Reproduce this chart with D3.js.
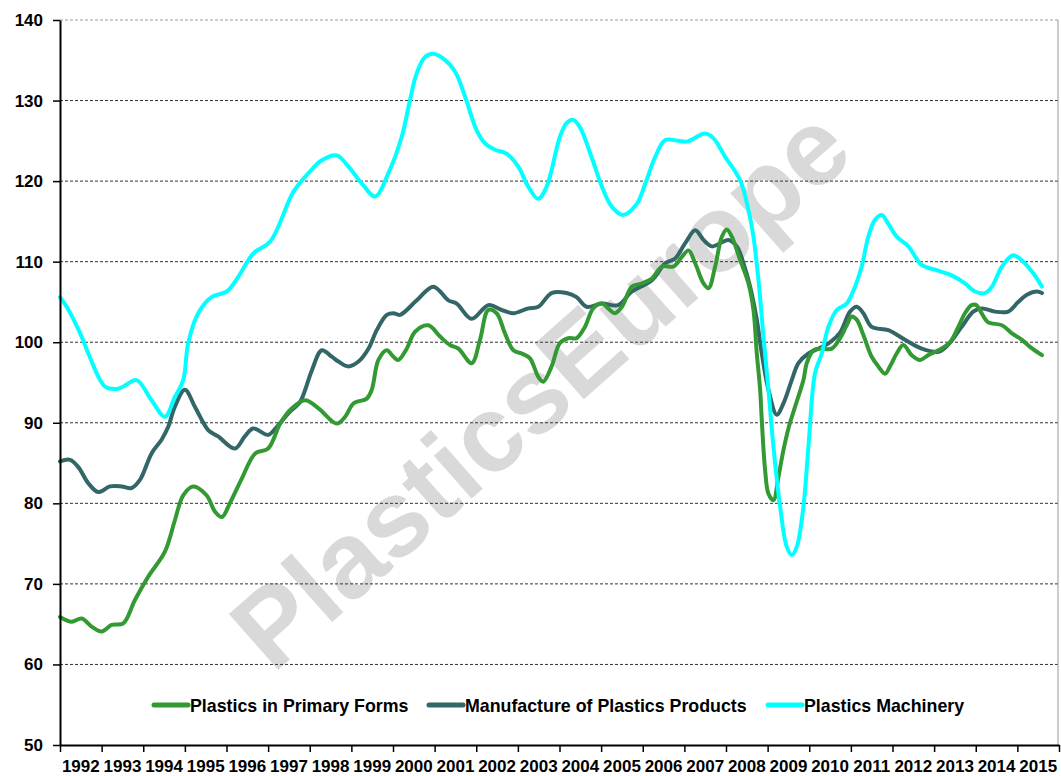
<!DOCTYPE html>
<html><head><meta charset="utf-8">
<script src="https://cdn.jsdelivr.net/npm/d3@7"></script>
<style>
body{margin:0;background:#fff}
svg{display:block}
text{font-family:"Liberation Sans",Arial,sans-serif;font-weight:bold;fill:#000}
</style>
</head><body>
<svg id="chart" width="1061" height="776"></svg>
<script>
// ---- data ----
const yearLabels = d3.range(1992, 2016).map(String);
const yTicks = [50, 60, 70, 80, 90, 100, 110, 120, 130, 140];
const seriesNames = ["Plastics in Primary Forms", "Manufacture of Plastics Products", "Plastics Machinery"];
const seriesColors = ["#339933", "#336666", "#00FFFF"];

const primaryForms = [
 [1992.00,65.9],[1992.28,65.3],[1992.52,65.7],[1992.76,64.7],[1993.00,64.1],[1993.24,64.9],[1993.52,65.1],
 [1993.80,68.0],[1994.12,70.9],[1994.52,74.0],[1994.76,77.9],[1994.96,81.0],[1995.20,82.1],[1995.52,81.0],
 [1995.72,79.0],[1995.89,78.3],[1996.08,80.0],[1996.37,83.1],[1996.69,86.2],[1997.00,86.8],[1997.29,89.9],
 [1997.53,91.6],[1997.89,92.8],[1998.21,91.8],[1998.65,89.9],[1998.85,90.75],[1999.05,92.4],[1999.37,93.0],
 [1999.49,94.1],[1999.65,97.8],[1999.85,99.0],[2000.01,98.2],[2000.13,97.8],[2000.33,99.2],[2000.53,101.3],
 [2000.85,102.1],[2001.13,100.7],[2001.37,99.65],[2001.57,99.2],[2001.89,97.4],[2002.09,100.3],[2002.29,104.0],
 [2002.49,103.6],[2002.69,101.1],[2002.89,99.0],[2003.09,98.6],[2003.29,98.0],[2003.49,95.7],[2003.61,95.1],
 [2003.81,97.0],[2004.01,99.9],[2004.21,100.5],[2004.41,100.5],[2004.61,101.9],[2004.81,104.2],[2005.02,104.8],
 [2005.17,104.2],[2005.33,103.6],[2005.50,104.4],[2005.74,106.9],[2005.98,107.3],[2006.22,107.9],[2006.46,109.4],
 [2006.74,109.4],[2006.94,110.6],[2007.10,111.4],[2007.26,109.8],[2007.46,107.3],[2007.58,106.7],[2007.74,109.4],
 [2007.90,113.1],[2008.02,114.0],[2008.14,113.1],[2008.34,110.2],[2008.54,107.3],[2008.66,104.0],[2008.74,98.6],
 [2008.82,94.1],[2008.86,90.3],[2008.94,84.1],[2009.02,81.2],[2009.14,80.4],[2009.26,83.3],[2009.38,86.6],
 [2009.50,89.3],[2009.66,92.0],[2009.86,95.3],[2009.94,97.4],[2010.10,99.0],[2010.30,99.2],[2010.54,99.2],
 [2010.74,100.5],[2010.90,102.1],[2011.02,103.2],[2011.14,102.8],[2011.30,100.9],[2011.50,98.2],[2011.66,97.0],
 [2011.82,96.1],[2011.94,97.0],[2012.10,98.6],[2012.26,99.65],[2012.46,98.4],[2012.66,97.8],[2012.86,98.4],
 [2013.10,99.0],[2013.38,100.0],[2013.58,101.9],[2013.74,103.6],[2013.90,104.6],[2014.02,104.6],[2014.14,103.6],
 [2014.29,102.5],[2014.63,102.1],[2014.87,101.1],[2015.11,100.3],[2015.31,99.4],[2015.59,98.4]
];

const plasticsProducts = [
 [1992.00,85.2],[1992.24,85.4],[1992.44,84.5],[1992.68,82.5],[1992.92,81.4],[1993.20,82.1],[1993.48,82.1],
 [1993.72,81.9],[1993.92,82.9],[1994.20,86.2],[1994.44,87.9],[1994.60,89.5],[1994.76,92.0],[1995.00,94.1],
 [1995.24,92.0],[1995.56,89.1],[1995.80,88.3],[1996.20,86.8],[1996.44,88.3],[1996.64,89.3],[1997.00,88.5],
 [1997.21,89.5],[1997.49,91.2],[1997.77,92.6],[1997.89,94.1],[1998.05,96.5],[1998.29,99.0],[1998.53,98.2],
 [1998.69,97.6],[1998.93,97.0],[1999.17,97.6],[1999.41,99.2],[1999.61,101.5],[1999.85,103.4],[2000.01,103.6],
 [2000.17,103.4],[2000.57,105.2],[2000.97,106.9],[2001.33,105.2],[2001.53,104.8],[2001.89,102.9],[2002.29,104.6],
 [2002.61,104.0],[2002.89,103.6],[2003.25,104.2],[2003.49,104.4],[2003.81,106.1],[2004.17,106.1],[2004.41,105.6],
 [2004.65,104.4],[2005.02,104.8],[2005.41,104.6],[2005.74,106.3],[2006.22,107.7],[2006.54,109.8],[2006.78,110.4],
 [2007.02,112.3],[2007.26,113.9],[2007.46,112.7],[2007.66,111.9],[2008.06,112.7],[2008.26,111.9],[2008.42,109.8],
 [2008.58,106.9],[2008.74,102.8],[2008.86,98.6],[2009.02,94.1],[2009.22,91.0],[2009.38,92.4],[2009.58,95.3],
 [2009.74,97.4],[2009.98,98.6],[2010.30,99.4],[2010.50,100.0],[2010.74,101.2],[2010.98,103.8],[2011.14,104.4],
 [2011.30,103.6],[2011.50,101.9],[2011.90,101.5],[2012.30,100.3],[2012.70,99.2],[2013.10,98.8],[2013.34,99.7],
 [2013.66,101.9],[2013.94,103.8],[2014.14,104.2],[2014.46,103.8],[2014.78,103.8],[2015.02,105.0],[2015.23,105.9],
 [2015.47,106.3],[2015.59,106.1]
];

const plasticsMachinery = [
 [1992.00,105.6],[1992.16,104.4],[1992.52,100.7],[1992.68,98.6],[1993.08,94.5],[1993.36,94.2],[1993.52,94.5],
 [1993.84,95.3],[1994.20,92.8],[1994.52,90.75],[1994.76,93.2],[1994.96,95.3],[1995.08,99.9],[1995.32,103.6],
 [1995.64,105.6],[1996.01,106.3],[1996.28,108.1],[1996.64,111.0],[1997.05,112.5],[1997.61,118.7],[1997.97,121.0],
 [1998.29,122.6],[1998.65,123.2],[1998.93,121.8],[1999.25,119.7],[1999.57,118.1],[1999.89,121.0],[2000.21,125.5],
 [2000.41,130.1],[2000.57,133.4],[2000.77,135.4],[2000.97,135.8],[2001.21,135.2],[2001.49,133.6],[2001.73,130.5],
 [2002.01,126.3],[2002.21,124.7],[2002.45,123.9],[2002.73,123.4],[2003.01,121.8],[2003.25,119.3],[2003.49,117.8],
 [2003.69,119.3],[2004.01,125.5],[2004.17,127.2],[2004.33,127.6],[2004.49,126.7],[2004.77,123.0],[2005.02,119.3],
 [2005.26,116.8],[2005.53,115.8],[2005.86,117.2],[2006.06,119.7],[2006.30,123.0],[2006.54,125.1],[2006.86,125.0],
 [2007.06,124.9],[2007.50,125.9],[2007.70,125.3],[2007.98,123.0],[2008.34,120.1],[2008.54,116.4],[2008.66,113.1],
 [2008.78,107.7],[2008.90,100.7],[2009.02,94.1],[2009.14,87.0],[2009.30,79.6],[2009.46,74.6],[2009.58,73.6],
 [2009.70,74.6],[2009.86,79.6],[2009.98,87.0],[2010.14,96.2],[2010.30,98.6],[2010.46,101.9],[2010.66,104.0],
 [2010.90,104.8],[2011.10,106.9],[2011.26,109.4],[2011.42,113.1],[2011.58,115.2],[2011.74,115.8],[2011.90,114.7],
 [2012.10,113.1],[2012.38,111.9],[2012.70,109.6],[2013.02,109.0],[2013.42,108.3],[2013.74,107.3],[2013.98,106.3],
 [2014.22,106.1],[2014.39,106.9],[2014.63,109.4],[2014.90,110.8],[2015.14,110.0],[2015.39,108.5],[2015.59,106.9]
];

const watermarkText = "PlasticsEurope";

// ---- layout ----
const svg = d3.select("#chart");
const m = {left: 60, right: 1059, top: 20, bottom: 745};
const x = d3.scaleLinear().domain([1992, 2016]).range([m.left, m.right]);
const y = d3.scaleLinear().domain([50, 140]).range([m.bottom, m.top]);

// watermark
svg.append("text")
  .attr("transform", "translate(540,388) rotate(-41.5)")
  .attr("text-anchor", "middle")
  .attr("dominant-baseline", "central")
  .style("font-size", "108px")
  .style("fill", "#d9d9d9")
  .text(watermarkText);

// gridlines
svg.append("g").selectAll("line").data(yTicks.filter(d => d > 50)).join("line")
  .attr("x1", m.left).attr("x2", m.right)
  .attr("y1", d => y(d)).attr("y2", d => y(d))
  .attr("stroke", d => d === 140 ? "#999" : "#333")
  .attr("stroke-width", 1)
  .attr("stroke-dasharray", "3,2");

// right border
svg.append("line").attr("x1", m.right - 1).attr("x2", m.right - 1)
  .attr("y1", m.top).attr("y2", m.bottom).attr("stroke", "#999").attr("stroke-width", 1);

// series
const line = d3.line().x(d => x(d[0])).y(d => y(d[1])).curve(d3.curveCatmullRom.alpha(0.5));
const allSeries = [primaryForms, plasticsProducts, plasticsMachinery];
const order = [1, 0, 2];
order.forEach(i => {
  svg.append("path").datum(allSeries[i])
    .attr("d", line)
    .attr("fill", "none")
    .attr("stroke", seriesColors[i])
    .attr("stroke-width", 4)
    .attr("stroke-linejoin", "round")
    .attr("stroke-linecap", "round");
});

// y axis
const yAxis = svg.append("g").attr("transform", `translate(${m.left},0)`)
  .call(d3.axisLeft(y).tickValues(yTicks).tickSize(7).tickSizeOuter(0).tickPadding(10));
yAxis.select(".domain").attr("stroke", "#000").attr("stroke-width", 2);
yAxis.selectAll(".tick line").attr("stroke", "#000").attr("stroke-width", 1.5);
yAxis.selectAll(".tick text").style("font-size", "17px").style("font-family", '"Liberation Sans",Arial,sans-serif').style("font-weight", "bold").attr("fill", "#000");

// x axis
const xAxis = svg.append("g").attr("transform", `translate(0,${m.bottom})`)
  .call(d3.axisBottom(x).tickValues(d3.range(1992, 2017)).tickSize(7).tickSizeOuter(0).tickFormat(""));
xAxis.select(".domain").attr("stroke", "#000").attr("stroke-width", 2);
xAxis.selectAll(".tick line").attr("stroke", "#000").attr("stroke-width", 1.5);
svg.append("g").selectAll("text").data(yearLabels).join("text")
  .attr("x", d => x(+d + 0.5))
  .attr("y", 771.5)
  .attr("text-anchor", "middle")
  .style("font-size", "17px")
  .text(d => d);

// legend
const legendX = [154, 429, 768];
const lg = svg.append("g").selectAll("g").data(seriesNames).join("g")
  .attr("transform", (d, i) => `translate(${legendX[i]},705)`);
lg.append("line").attr("x1", 0).attr("x2", 34).attr("y1", 0).attr("y2", 0)
  .attr("stroke", (d, i) => seriesColors[i]).attr("stroke-width", 5).attr("stroke-linecap", "round");
lg.append("text").attr("x", 36).attr("y", 6.5).style("font-size", "17.8px").text(d => d);
</script>
</body></html>
